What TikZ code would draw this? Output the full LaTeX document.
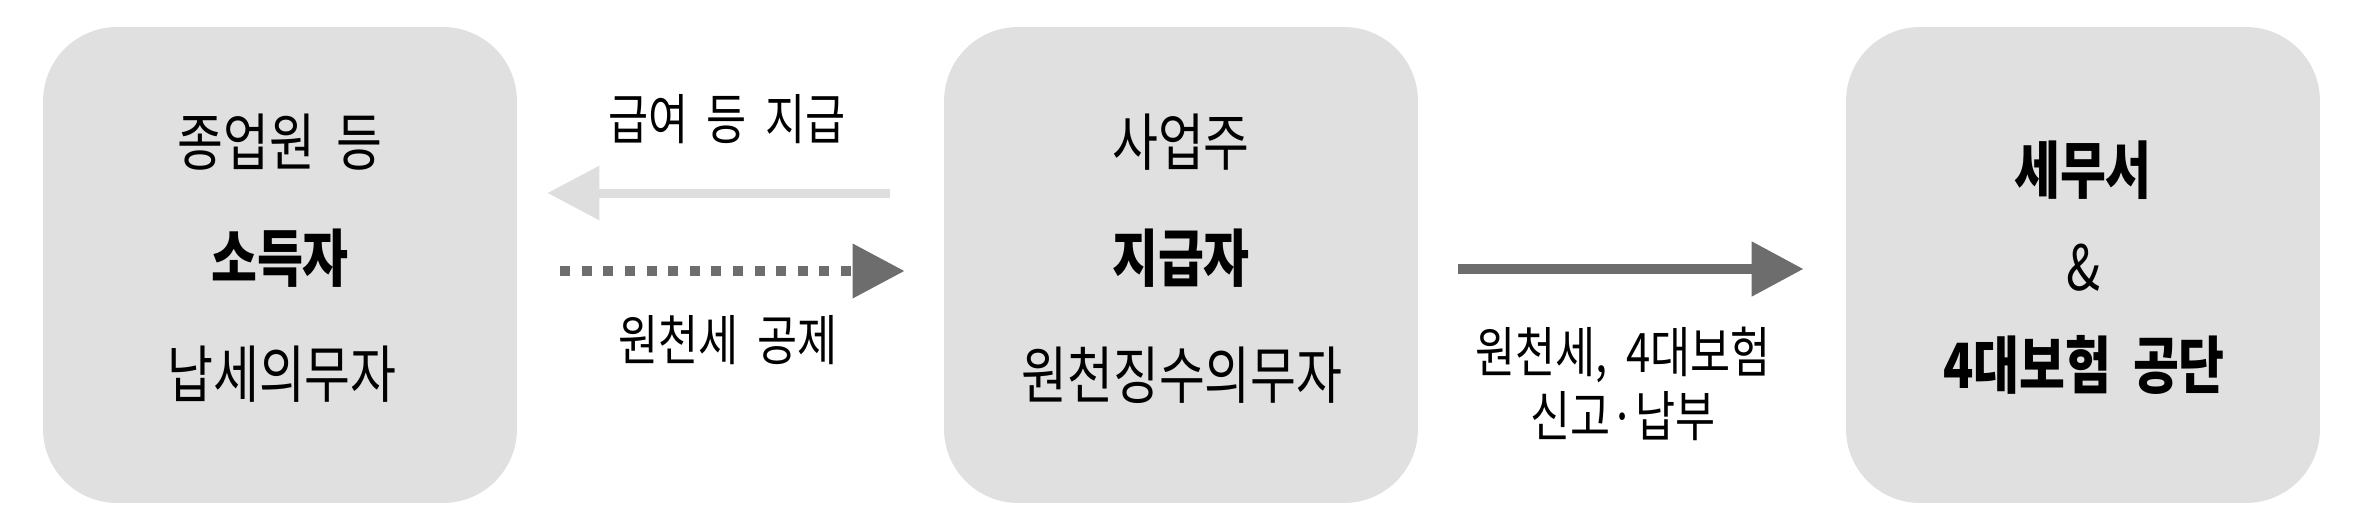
\documentclass[tikz,border=0pt]{standalone}
\usepackage{fontspec}
\setmainfont{Noto Sans CJK KR}[FakeStretch=0.8, WordSpace=1.9]
\usetikzlibrary{arrows.meta}
\definecolor{boxgray}{HTML}{E0E0E0}
\definecolor{paygray}{HTML}{DEDEDE}
\definecolor{taxgray}{HTML}{6D6D6D}

\begin{document}
\begin{tikzpicture}
[x=0.02cm, y=-0.02cm,
 party/.style={rectangle, rounded corners=1.48cm, fill=boxgray, minimum width=9.48cm, minimum height=9.52cm, inner sep=0},
 big/.style={font=\fontsize{35.5}{40}\selectfont, inner sep=0},
 small/.style={font=\fontsize{31}{36.8}\selectfont, inner sep=0, align=center},
 tip/.style={-{Triangle[length=1.04cm, width=1.04cm]}}]
\useasboundingbox (0, 0) rectangle (2362, 530);
\node (earner) [party] at (280, 265) {};
\node (payer) [party] at (1181, 265) {};
\node (office) [party] at (2083, 265) {};
\node (e1) [big] at (280, 142) {종업원 등};
\node (e2) [big] at (280, 258) {\bfseries 소득자};
\node (e3) [big] at (282, 374) {납세의무자};
\node (p1) [big] at (1181, 142) {사업주};
\node (p2) [big] at (1181, 258) {\bfseries 지급자};
\node (p3) [big] at (1182, 375) {원천징수의무자};
\node (o1) [big] at (2083, 170) {\bfseries 세무서};
\node (o2) [big] at (2083, 268) {\&};
\node (o3) [big] at (2084, 365) {\bfseries 4대보험 공단};
\draw [tip, paygray, line width=0.18cm, shorten <=1.08cm, shorten >=0.6cm] ([yshift=1.44cm]payer.west) -- ([yshift=1.44cm]earner.east);
\draw [tip, taxgray, line width=0.2cm, dash pattern=on 0.2cm off 0.232cm, shorten <=0.86cm, shorten >=0.78cm] ([yshift=-0.12cm]earner.east) -- ([yshift=-0.12cm]payer.west);
\draw [tip, taxgray, line width=0.22cm, shorten <=0.8cm, shorten >=0.84cm] ([yshift=-0.08cm]payer.east) -- ([yshift=-0.08cm]office.west);
\node (l1) [small] at (727, 119) {급여 등 지급};
\node (l2) [small] at (728, 340) {원천세 공제};
\node (l3) [small] at (1623, 384) {원천세, 4대보험\\신고·납부};
\end{tikzpicture}
\end{document}
